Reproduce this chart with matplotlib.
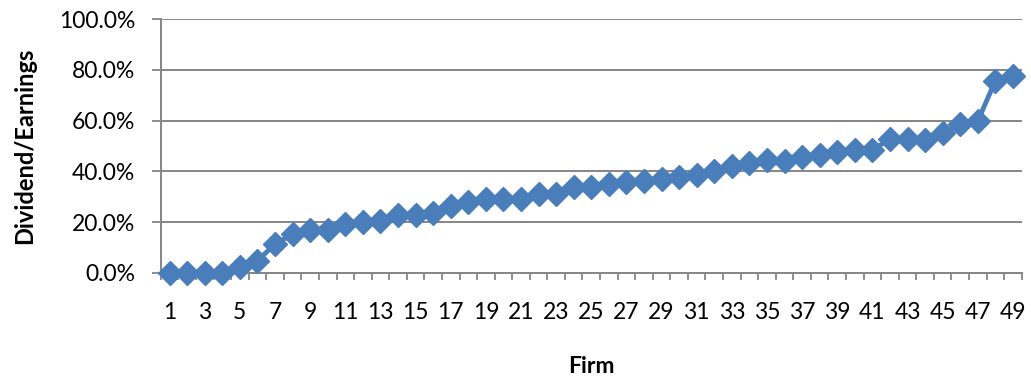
import numpy as np
import matplotlib.pyplot as plt
from matplotlib.ticker import FuncFormatter

plt.rcParams['font.family'] = ['Lato', 'DejaVu Sans']

# Dividend payout ratio (%) by firm, sorted ascending
firms = list(range(1, 50))
payout = [0.0, 0.0, 0.0, 0.0, 2.2, 4.8, 11.3, 15.3, 16.8, 16.8,
          19.2, 20.0, 20.5, 22.6, 22.9, 23.4, 26.3, 28.0, 29.1, 29.1,
          29.1, 30.9, 30.9, 33.7, 33.9, 35.0, 35.9, 36.3, 37.0, 37.8,
          38.7, 40.1, 42.1, 43.4, 44.5, 43.9, 45.5, 46.4, 47.7, 48.4,
          48.4, 52.7, 52.7, 52.3, 55.0, 58.7, 59.8, 75.7, 77.6]
yticks = [0, 20, 40, 60, 80, 100]

blue = '#4A7EBB'
grey = '#868686'

fig = plt.figure(figsize=(10.31, 3.81), dpi=100)
ax = fig.add_axes([0.156, 0.284, 0.835, 0.666])

ax.plot(firms, payout, color=blue, linewidth=3.5, marker='D',
        markersize=12, markerfacecolor=blue, markeredgecolor=blue,
        zorder=3, clip_on=False)

ax.set_xlim(0.5, 49.5)
ax.set_ylim(0, 100)

# category axis: ticks at category boundaries, labels on every other firm
ax.set_xticks(np.arange(0.5, 50.5, 1.0))
ax.set_xticklabels([])
ax.set_xticks(firms[::2], minor=True)
ax.set_xticklabels([str(f) for f in firms[::2]], minor=True)
ax.tick_params(axis='x', which='major', direction='out', length=5,
               width=1.3, color=grey)
ax.tick_params(axis='x', which='minor', length=0, pad=21, labelsize=16.5)

ax.set_yticks(yticks)
ax.yaxis.set_major_formatter(FuncFormatter(lambda v, p: f'{v:.1f}%'))
ax.tick_params(axis='y', direction='out', length=6.5, width=1.3, color=grey,
               pad=12, labelsize=16.5)

ax.grid(axis='y', color=grey, linewidth=1.4)
ax.set_axisbelow(True)
for side in ['top', 'right']:
    ax.spines[side].set_visible(False)
for side in ['left', 'bottom']:
    ax.spines[side].set_color(grey)
    ax.spines[side].set_linewidth(1.4)

ax.set_xlabel('Firm', fontsize=16.5, fontweight='bold', labelpad=24)
ax.set_ylabel('Dividend/Earnings', fontsize=17, fontweight='bold', labelpad=16)

fig.savefig('out.png', dpi=100)
